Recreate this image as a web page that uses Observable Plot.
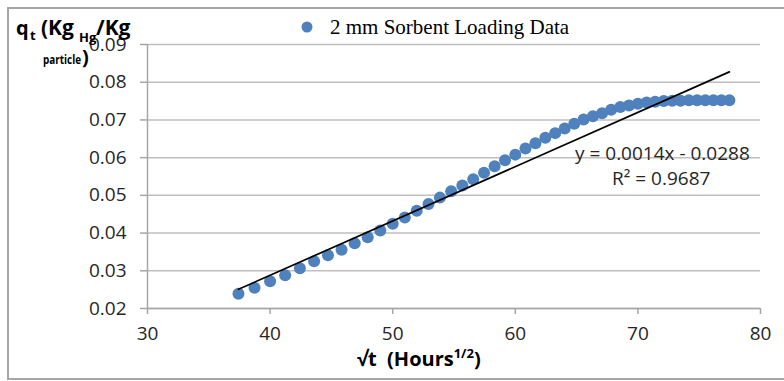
<!DOCTYPE html>
<html><head><meta charset="utf-8">
<script src="https://cdn.jsdelivr.net/npm/d3@7"></script>
<script src="https://cdn.jsdelivr.net/npm/@observablehq/plot@0.6"></script>
<style>body{margin:0;background:#fff;overflow:hidden} #chart{width:784px;height:381px}</style>
</head><body><div id="chart"></div>
<script>
// √t (Hours^1/2)
const sqrtT = [37.42, 38.73, 40.00, 41.23, 42.43, 43.59, 44.72, 45.83, 46.90, 47.96,
  48.99, 50.00, 50.99, 51.96, 52.92, 53.85, 54.77, 55.68, 56.57, 57.45,
  58.31, 59.16, 60.00, 60.83, 61.64, 62.45, 63.25, 64.03, 64.81, 65.57,
  66.33, 67.08, 67.82, 68.56, 69.28, 70.00, 70.71, 71.41, 72.11, 72.80,
  73.48, 74.16, 74.83, 75.50, 76.16, 76.81, 77.46];
// qt (Kg_Hg / Kg_particle)
const qt = [0.0239, 0.0255, 0.0272, 0.0288, 0.0307, 0.0325, 0.0341, 0.0356, 0.0373, 0.0389,
  0.0407, 0.0425, 0.0441, 0.0459, 0.0477, 0.0494, 0.0511, 0.0526, 0.0543, 0.0560,
  0.0577, 0.0593, 0.0608, 0.0624, 0.0638, 0.0653, 0.0665, 0.0677, 0.0690, 0.0701,
  0.0710, 0.0718, 0.0727, 0.0734, 0.0738, 0.0743, 0.0746, 0.0748, 0.0750, 0.0751,
  0.0751, 0.0752, 0.0752, 0.0752, 0.0752, 0.0752, 0.0752];
const xTicks = [30, 40, 50, 60, 70, 80];
const yTicks = [0.02, 0.03, 0.04, 0.05, 0.06, 0.07, 0.08, 0.09];
const seriesName = "2 mm Sorbent Loading Data";
const trendSlope = 0.00144;
const trendIntercept = -0.0288;
const trendLabel = "y = 0.0014x - 0.0288";
const r2Label = "R² = 0.9687";

const data = sqrtT.map((x, i) => ({x, q: qt[i]}));
const trendEnds = [sqrtT[0], sqrtT[sqrtT.length - 1]];
const trend = trendEnds.map(x => ({x, q: trendSlope * x + trendIntercept}));

const plot = Plot.plot({
  width: 784, height: 381,
  marginLeft: 147, marginRight: 24, marginTop: 44, marginBottom: 73,
  style: {fontFamily: "'Open Sans', sans-serif", fontSize: "19px", background: "white", color: "#262626"},
  x: {domain: [30, 80]},
  y: {domain: [0.02, 0.09]},
  marks: [
    Plot.gridY(yTicks, {stroke: "#bfbfbf", strokeOpacity: 1, strokeWidth: 1.5}),
    Plot.ruleX([30], {stroke: "#a6a6a6", strokeWidth: 1.5}),
    Plot.ruleY([0.02], {stroke: "#a6a6a6", strokeWidth: 1.5}),
    Plot.axisY(yTicks, {tickSize: 7, tickPadding: 14, tickFormat: d3.format(".2f"),
      stroke: "#a6a6a6", strokeWidth: 1.5, fill: "#262626", label: null}),
    Plot.axisX(xTicks, {tickSize: 6, tickPadding: 12,
      stroke: "#a6a6a6", strokeWidth: 1.5, fill: "#262626", label: null}),
    Plot.dot(data, {x: "x", y: "q", r: 6, fill: "#4f81bd", stroke: "none"}),
    Plot.line(trend, {x: "x", y: "q", stroke: "#000", strokeWidth: 1.7}),
    Plot.text([trendLabel], {x: 72.0, y: 0.0610, text: d => d, fontSize: 19, fill: "#262626", textAnchor: "middle"}),
    Plot.text([r2Label], {x: 71.9, y: 0.0543, text: d => d, fontSize: 19, fill: "#262626", textAnchor: "middle"})
  ]
});

const svg = d3.select(plot);
// outer chart border
svg.append("rect").attr("x", 8).attr("y", 8).attr("width", 800).attr("height", 371)
  .attr("fill", "none").attr("stroke", "#a6a6a6").attr("stroke-width", 2);

// legend
svg.append("circle").attr("cx", 307).attr("cy", 27).attr("r", 5.5).attr("fill", "#4f81bd");
svg.append("text").attr("x", 330).attr("y", 34).attr("text-anchor", "start")
  .attr("font-family", "'Liberation Serif', serif")
  .attr("font-size", 21).attr("fill", "#000").text(seriesName);

// y-axis title
const yt = svg.append("g").attr("font-family", "'Open Sans', sans-serif").attr("font-weight", "bold")
  .attr("fill", "#000").attr("text-anchor", "start");
yt.append("text").attr("x", 16).attr("y", 35).attr("font-size", 20).text("q");
yt.append("text").attr("x", 30).attr("y", 40).attr("font-size", 13).text("t");
yt.append("text").attr("x", 41).attr("y", 35).attr("font-size", 21).text("(Kg");
yt.append("text").attr("x", 79).attr("y", 42).attr("font-size", 13).text("Hg");
yt.append("text").attr("x", 96).attr("y", 35).attr("font-size", 21).text("/Kg");
yt.append("text").attr("x", 43).attr("y", 64).attr("font-size", 12)
  .attr("textLength", 38).attr("lengthAdjust", "spacingAndGlyphs").text("particle");
yt.append("text").attr("x", 82).attr("y", 64).attr("font-size", 20).text(")");

// x-axis title
const xt = svg.append("text").attr("x", 357).attr("y", 366).attr("text-anchor", "start")
  .attr("font-family", "'Open Sans', sans-serif").attr("font-weight", "bold").attr("font-size", 20).attr("fill", "#000");
xt.append("tspan").text("√t  (Hours");
xt.append("tspan").attr("font-size", 13).attr("dy", -8).text("1/2");
xt.append("tspan").attr("dy", 8).text(")");

document.getElementById("chart").appendChild(plot);
</script>
</body></html>
